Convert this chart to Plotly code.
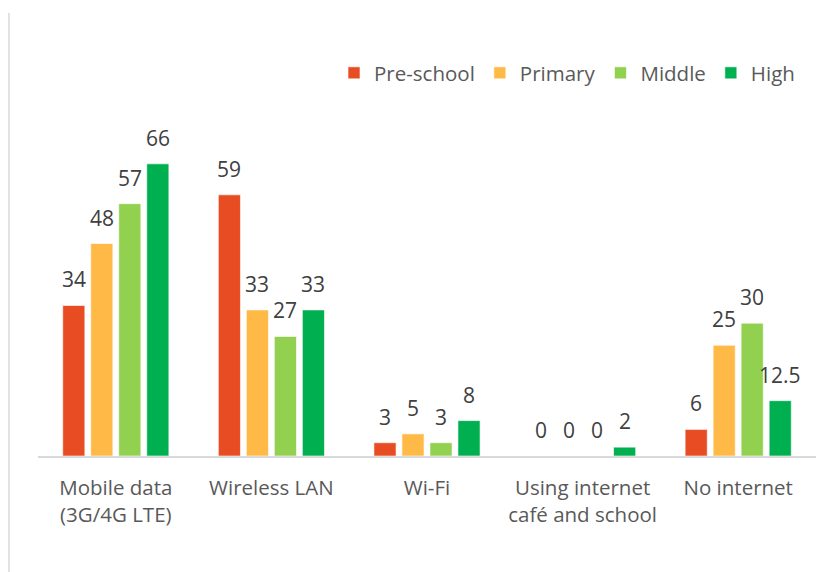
import plotly.graph_objects as go

# Internet access type by school level (%)
categories = [
    "Mobile data<br>(3G/4G LTE)",
    "Wireless LAN",
    "Wi-Fi",
    "Using internet<br>café and school",
    "No internet",
]
series_names = ["Pre-school", "Primary", "Middle", "High"]
pre_school = [34, 59, 3, 0, 6]
primary = [48, 33, 5, 0, 25]
middle = [57, 27, 3, 0, 30]
high = [66, 33, 8, 2, 12.5]
colors = ["#E84C22", "#FFB946", "#92D050", "#00B050"]

series_values = [pre_school, primary, middle, high]

FONT = "Open Sans"
W, H = 831, 572
M_L, M_R, M_T, M_B = 38, 15, 124, 116
Y_MAX = 75

fig = go.Figure()
for name, vals, col in zip(series_names, series_values, colors):
    fig.add_trace(go.Bar(
        name=name,
        x=categories,
        y=vals,
        marker=dict(color=col, line=dict(color="rgba(255,255,255,0.6)", width=1)),
        hoverinfo="x+y+name",
    ))

# value labels above each bar
plot_w = W - M_L - M_R
cat_w = plot_w / len(categories)
bargap, groupgap = 0.28, 0.21
slot = cat_w * (1 - bargap) / len(series_names)
offsets = [(i - (len(series_names) - 1) / 2) * slot for i in range(len(series_names))]

annotations = []
for vals, off in zip(series_values, offsets):
    for cat, v in zip(categories, vals):
        annotations.append(dict(
            x=cat, y=v, xref="x", yref="y",
            text=f"{v:g}", showarrow=False,
            xshift=off, yshift=10, yanchor="bottom", xanchor="center",
            font=dict(family=FONT, size=21, color="#404040"),
        ))

plot_h = H - M_T - M_B

fig.update_layout(
    width=W, height=H,
    margin=dict(l=M_L, r=M_R, t=M_T, b=M_B, pad=0),
    paper_bgcolor="white", plot_bgcolor="white",
    barmode="group", bargap=bargap, bargroupgap=groupgap,
    font=dict(family=FONT, size=20.5, color="#595959"),
    showlegend=True,
    legend=dict(
        orientation="h",
        x=(334 - M_L) / plot_w, xanchor="left",
        y=(H - M_B - 73) / plot_h, yanchor="middle",
        font=dict(family=FONT, size=20.5, color="#595959"),
        bgcolor="rgba(0,0,0,0)",
        traceorder="normal",
        itemclick=False, itemdoubleclick=False,
    ),
    xaxis=dict(
        showgrid=False, zeroline=False,
        showline=True, linecolor="#D9D9D9", linewidth=1.5,
        ticks="", tickfont=dict(family=FONT, size=20.5, color="#595959"),
        ticklabelstandoff=13,
    ),
    yaxis=dict(
        range=[0, Y_MAX], visible=False, showgrid=False, zeroline=False,
    ),
    annotations=annotations,
    shapes=[dict(
        type="line", xref="paper", yref="paper",
        x0=(9 - M_L) / plot_w, x1=(9 - M_L) / plot_w,
        y0=(H - M_B - H) / plot_h, y1=(H - M_B - 13) / plot_h,
        line=dict(color="#D9D9D9", width=1.5),
    )],
)

fig.write_html("out.html")
